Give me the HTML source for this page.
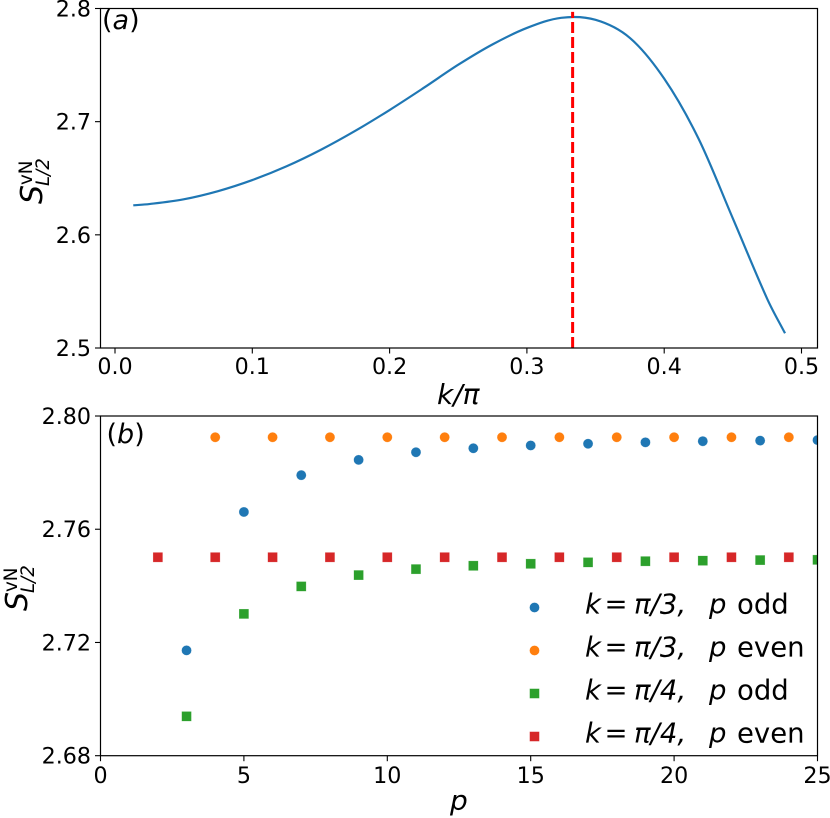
<!DOCTYPE html>
<html lang="en">
<head>
<meta charset="utf-8">
<title>Entanglement entropy chart</title>
<style>
html,body{margin:0;padding:0;background:#fff;width:830px;height:818px;overflow:hidden}
svg{display:block}
text{font-family:"DejaVu Sans","Liberation Sans",sans-serif;fill:#000}
.tick{font-size:22.2px}
.math{font-size:28px;font-style:italic}
.leg{font-size:27.5px}
.i{font-style:italic}
</style>
</head>
<body>
<svg id="chart" width="830" height="818" viewBox="0 0 830 818" xmlns="http://www.w3.org/2000/svg">
  <defs>
    <clipPath id="clip-a"><rect x="100.5" y="8.5" width="717" height="339.5"/></clipPath>
    <clipPath id="clip-b"><rect x="100.5" y="416" width="717" height="339.7"/></clipPath>
  </defs>
  <rect width="830" height="818" fill="#fff"/>
  <g id="panel-a"></g>
  <g id="panel-b"></g>

  <text x="102" y="29" font-size="27">(<tspan class="i">a</tspan>)</text>
  <text x="106.5" y="443" font-size="27">(<tspan class="i">b</tspan>)</text>

  <text class="math" x="437" y="404">k/π</text>
  <text class="math" x="450" y="810">p</text>

  <g transform="translate(42,204) rotate(-90)">
    <text class="i" font-size="30" x="0" y="0">S</text>
    <text font-size="18.2" x="19" y="-10">vN</text>
    <text class="i" font-size="18.2" x="18" y="7">L/2</text>
  </g>
  <g transform="translate(27,611) rotate(-90)">
    <text class="i" font-size="30" x="0" y="0">S</text>
    <text font-size="18.2" x="19" y="-10">vN</text>
    <text class="i" font-size="18.2" x="18" y="7">L/2</text>
  </g>

  <g id="legend"></g>
</svg>
<script>
// Panel (a) data
const kValues = [0.0133,0.025,0.05,0.075,0.1,0.125,0.15,0.175,0.2,0.225,0.25,0.275,0.3,0.325,0.35,0.375,0.4,0.425,0.45,0.475,0.488];
const entropyValues = [2.6261,2.6272,2.6314,2.6386,2.6484,2.6606,2.6752,2.6919,2.7103,2.73,2.7503,2.7683,2.7828,2.7918,2.79,2.774,2.738,2.685,2.6145,2.5435,2.513];
const peakK = [0.3333];
const peakRange = [2.5, 2.797];
const xTicksA = [0,0.1,0.2,0.3,0.4,0.5];
const xTickLabelsA = ["0.0","0.1","0.2","0.3","0.4","0.5"];
const yTicksA = [2.5,2.6,2.7,2.8];
const yTickLabelsA = ["2.5","2.6","2.7","2.8"];

// Panel (b) data
const pOdd = [3,5,7,9,11,13,15,17,19,21,23,25];
const pEvenThird = [4,6,8,10,12,14,16,18,20,22,24];
const pEvenFourth = [2,4,6,8,10,12,14,16,18,20,22,24];
const thirdOdd = [2.7172,2.7661,2.7791,2.7845,2.7872,2.7886,2.7896,2.7902,2.7907,2.7911,2.7913,2.7915];
const thirdEven = [2.7925,2.7925,2.7925,2.7925,2.7925,2.7925,2.7925,2.7925,2.7925,2.7925,2.7925];
const fourthOdd = [2.6939,2.7301,2.7398,2.7438,2.7459,2.7471,2.7478,2.7483,2.7487,2.7489,2.7491,2.7492];
const fourthEven = [2.7501,2.7501,2.7501,2.7501,2.7501,2.7501,2.7501,2.7501,2.7501,2.7501,2.7501,2.7501];
const xTicksB = [0,5,10,15,20,25];
const xTickLabelsB = ["0","5","10","15","20","25"];
const yTicksB = [2.68,2.72,2.76,2.80];
const yTickLabelsB = ["2.68","2.72","2.76","2.80"];

// Legend
const legendFormulas = ["π/3,","π/3,","π/4,","π/4,"];
const legendParity = ["odd","even","odd","even"];

const NS = "http://www.w3.org/2000/svg";
const BLUE = "#1f77b4", ORANGE = "#ff7f0e", GREEN = "#2ca02c", RED = "#d62728";

function make(tag, attrs, parent) {
  const el = document.createElementNS(NS, tag);
  for (const key in attrs) el.setAttribute(key, attrs[key]);
  parent.appendChild(el);
  return el;
}

// Axis functions
function xA(k) { return 115 + k * 1373; }
function yA(s) { return 348 - (s - 2.5) * 1131.67; }
function xB(p) { return 100.5 + p * 28.68; }
function yB(s) { return 755.7 - (s - 2.68) * 2830.8; }

function drawAxes(group, box, xTicks, xLabels, yTicks, yLabels, xFn, yFn, xLabelY) {
  xTicks.forEach(function (t, i) {
    const x = xFn(t);
    const mark = make("line", {x1:x, x2:x, y1:box.bottom, y2:box.bottom + 5.5, stroke:"#000", "stroke-width":1.1}, group);
    
    
    const label = make("text", {x:x, y:xLabelY, "text-anchor":"middle", class:"tick"}, group);
    
    
    label.textContent = xLabels[i];
  });
  yTicks.forEach(function (t, i) {
    const y = yFn(t);
    const mark = make("line", {x1:box.left - 5.5, x2:box.left, y1:y, y2:y, stroke:"#000", "stroke-width":1.1}, group);
    
    
    const label = make("text", {x:91, y:y + 8, "text-anchor":"end", class:"tick"}, group);
    
    
    label.textContent = yLabels[i];
  });
}

function drawSpines(group, box) {
  const frame = make("rect", {x:box.left, y:box.top, width:box.right - box.left, height:box.bottom - box.top, fill:"none", stroke:"#000", "stroke-width":1.2}, group);
  
  
}

// Cubic Hermite path with non-uniform tangents
function smoothPath(px, py) {
  const n = px.length;
  const m = px.map(function (_, i) {
    const a = Math.max(i - 1, 0), b = Math.min(i + 1, n - 1);
    return (py[b] - py[a]) / (px[b] - px[a]);
  });
  let d = "M" + px[0].toFixed(2) + " " + py[0].toFixed(2);
  for (let i = 0; i < n - 1; i++) {
    const h = (px[i + 1] - px[i]) / 3;
    d += "C" + (px[i] + h).toFixed(2) + " " + (py[i] + m[i] * h).toFixed(2) + " " +
         (px[i + 1] - h).toFixed(2) + " " + (py[i + 1] - m[i + 1] * h).toFixed(2) + " " +
         px[i + 1].toFixed(2) + " " + py[i + 1].toFixed(2);
  }
  return d;
}

function marker(parent, shape, x, y, color) {
  if (shape === "circle") {
    return make("circle", {cx:x, cy:y, r:5, fill:color, stroke:"#fff", "stroke-opacity":0.5, "stroke-width":0.5}, parent);
  }
  return make("rect", {x:x - 4.9, y:y - 4.9, width:9.8, height:9.8, fill:color, stroke:"#fff", "stroke-opacity":0.5, "stroke-width":0.5}, parent);
}

// Panel (a)
const panelA = document.getElementById("panel-a");
const boxA = {left:100.5, right:817.5, top:8.5, bottom:348};
const curve = make("path", {
  d: smoothPath(kValues.map(xA), entropyValues.map(yA)),
  fill:"none", stroke:BLUE, "stroke-width":2.2, "clip-path":"url(#clip-a)"
}, panelA);


const peakLine = make("line", {
  x1:xA(peakK[0]), x2:xA(peakK[0]), y1:yA(peakRange[0]), y2:yA(peakRange[1]),
  stroke:"#ff0000", "stroke-width":3, "stroke-dasharray":"11 4", "clip-path":"url(#clip-a)"
}, panelA);


drawAxes(panelA, boxA, xTicksA, xTickLabelsA, yTicksA, yTickLabelsA, xA, yA, 374);
drawSpines(panelA, boxA);

// Panel (b)
const panelB = document.getElementById("panel-b");
const boxB = {left:100.5, right:817.5, top:416, bottom:755.7};
const markerGroup = make("g", {"clip-path":"url(#clip-b)"}, panelB);



pOdd.forEach(function (p, i) {
  const dot = marker(markerGroup, "circle", xB(p), yB(thirdOdd[i]), BLUE);
  
  
});
pEvenThird.forEach(function (p, i) {
  const dot = marker(markerGroup, "circle", xB(p), yB(thirdEven[i]), ORANGE);
  
  
});
pOdd.forEach(function (p, i) {
  const sq = marker(markerGroup, "square", xB(p), yB(fourthOdd[i]), GREEN);
  
  
});
pEvenFourth.forEach(function (p, i) {
  const sq = marker(markerGroup, "square", xB(p), yB(fourthEven[i]), RED);
  
  
});
drawAxes(panelB, boxB, xTicksB, xTickLabelsB, yTicksB, yTickLabelsB, xB, yB, 783);
drawSpines(panelB, boxB);

// Legend
const legend = document.getElementById("legend");
const legendShapes = ["circle","circle","square","square"];
const legendColors = [BLUE, ORANGE, GREEN, RED];
legendFormulas.forEach(function (formula, i) {
  const rowY = 613.5 + i * 43;
  const row = make("g", {}, legend);
  
  
  const swatch = marker(row, legendShapes[i], 534.5, rowY - 6, legendColors[i]);
  
  
  const k = make("text", {x:585, y:rowY, class:"leg i"}, row);
  k.textContent = "k";
  const eq = make("text", {x:604.5, y:rowY, class:"leg"}, row);
  eq.textContent = "=";
  const value = make("text", {x:634, y:rowY, class:"leg i"}, row);
  value.textContent = formula;
  const p = make("text", {x:709, y:rowY, class:"leg i"}, row);
  p.textContent = "p";
  const parity = make("text", {x:737, y:rowY, class:"leg"}, row);
  parity.textContent = legendParity[i];
});
</script>
</body>
</html>
